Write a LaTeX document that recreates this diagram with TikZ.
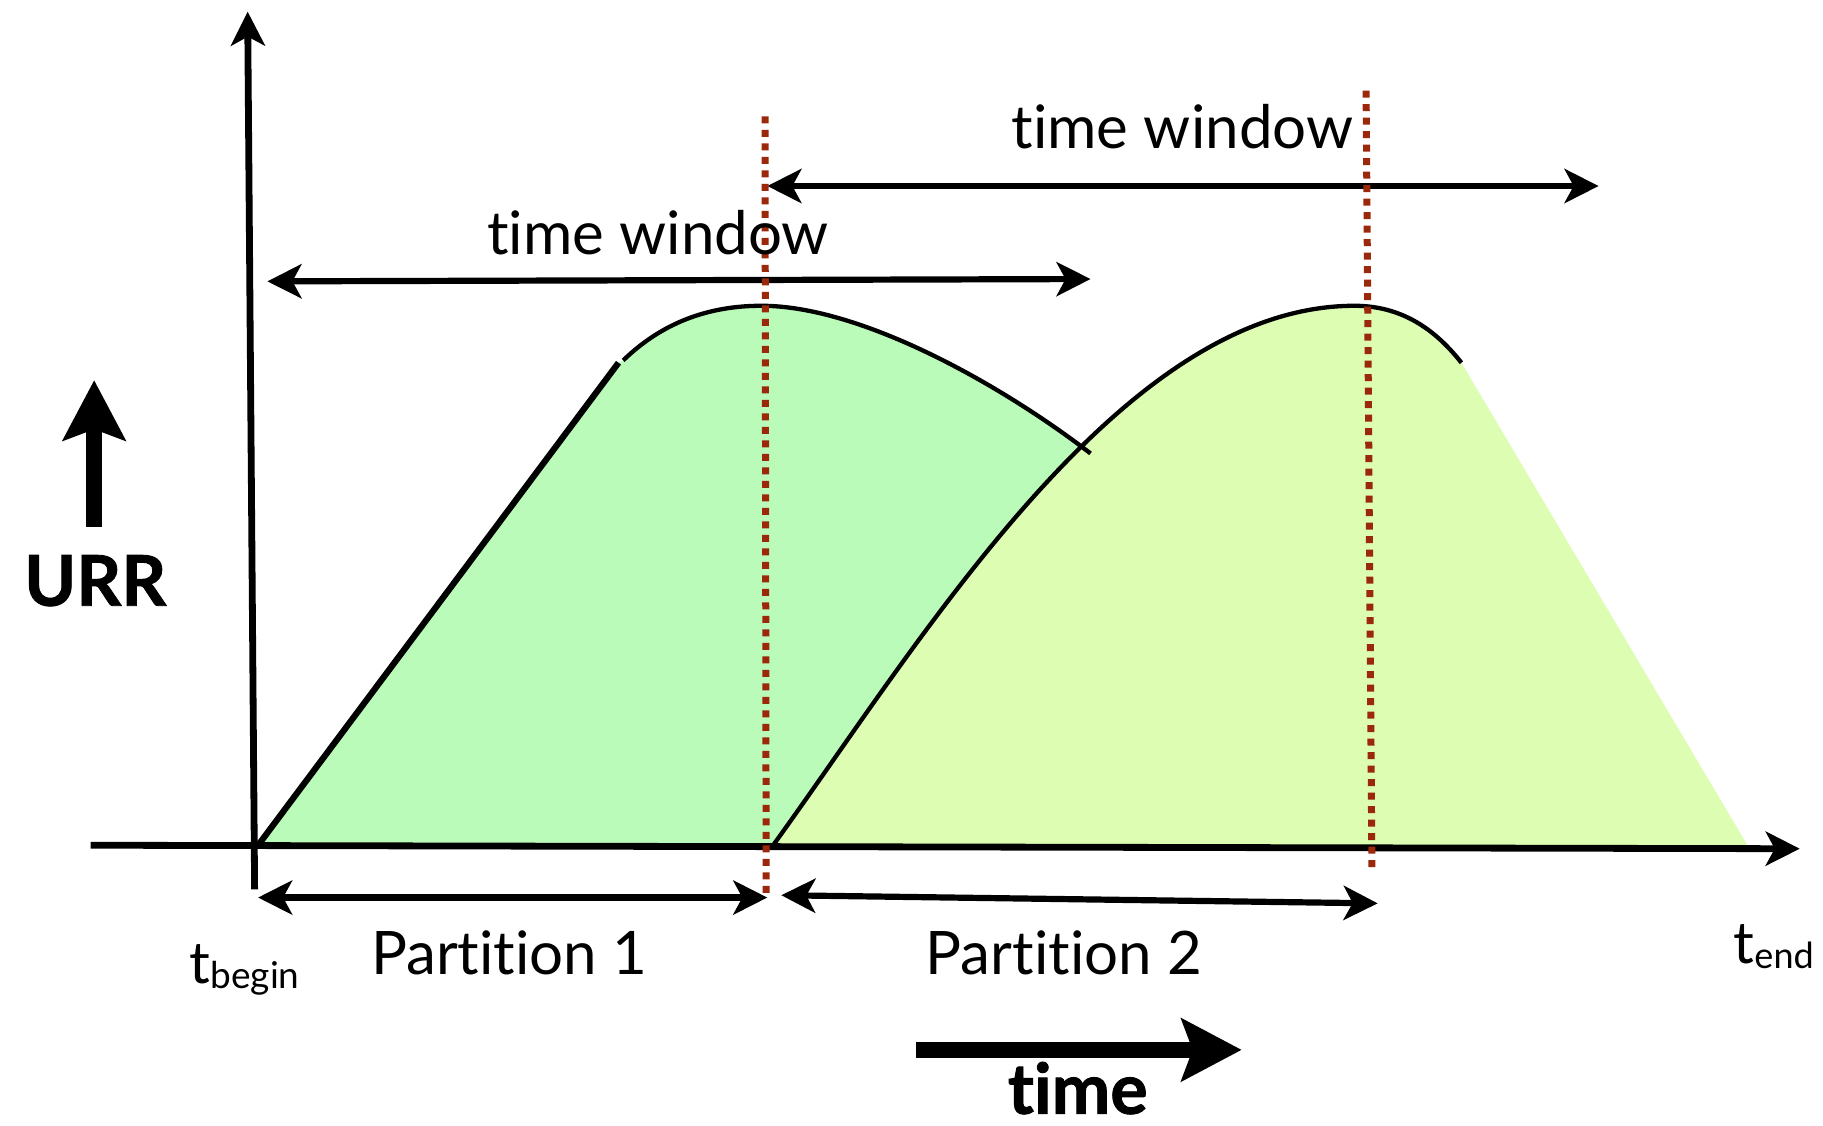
\documentclass[tikz,border=0pt]{standalone}
\usepackage{fontspec}
\setmainfont{Lato}[Ligatures={NoCommon,NoRequired,NoContextual}]
\usetikzlibrary{arrows.meta}
\newcommand\tkI{t\kern0pt i}
\definecolor{gfill}{RGB}{187,251,185}
\definecolor{yfill}{RGB}{220,253,178}
\definecolor{dotred}{RGB}{155,40,10}
\tikzset{
  lbl/.style={inner sep=0pt, anchor=base, font=\fontsize{60}{72}\selectfont},
  boldlbl/.style={inner sep=0pt, anchor=base, font=\fontsize{70}{80}\selectfont\bfseries\addfontfeature{FakeBold=1.2}},
  tlbl/.style={inner sep=0pt, anchor=base west, font=\fontsize{58}{70}\selectfont},
  axisline/.style={line width=6.8pt, -{Stealth[length=34pt, width=34pt, inset=9pt]}},
  dblarrow/.style={line width=6.2pt, {Stealth[length=34pt, width=34pt, inset=9pt]}-{Stealth[length=34pt, width=34pt, inset=9pt]}},
  thickarrow/.style={line width=16pt, -{Stealth[length=60pt, width=62pt, inset=11pt]}},
  redline/.style={draw=dotred, line width=7pt, dash pattern=on 7pt off 6.5pt},
  curveline/.style={line width=4.3pt},
}
\begin{document}
\begin{tikzpicture}[x=1.1626pt, y=-1.1626pt]
\useasboundingbox (0,0) rectangle (1568,968);

% named coordinates
\coordinate (yb) at (219,765);
\coordinate (yt) at (213,10);
\coordinate (xl) at (78,727);
\coordinate (xr) at (1548,730);
\coordinate (g0) at (222,727);
\coordinate (g1) at (532,312);
\coordinate (g2) at (536,310);
\coordinate (gp) at (655,263);
\coordinate (gx) at (938,390);
\coordinate (y0) at (665,727);
\coordinate (yp) at (1165,263);
\coordinate (y3) at (1257,312);
\coordinate (y4) at (1503,727);

% green fill
\fill[gfill] (g0) -- (g1) -- (g2) .. controls (570,277) and (610,263) .. (gp)
  .. controls (740,263) and (860,330) .. (gx) -- (1000,727) -- cycle;
% yellow fill
\fill[yfill] (y0) .. controls (795,547) and (965,263) .. (yp)
  .. controls (1210,263) and (1238,288) .. (y3) -- (y4) -- cycle;

% green outline
\draw[line width=6.2pt] (g0) -- (g1);
\draw[curveline] (g2) .. controls (570,277) and (610,263) .. (gp)
  .. controls (740,263) and (860,330) .. (gx);
% yellow outline
\draw[curveline] (y0) .. controls (795,547) and (965,263) .. (yp)
  .. controls (1210,263) and (1238,288) .. (y3);

% axes
\draw[axisline] (xl) -- (xr);
\draw[axisline] (yb) -- (yt);

% time window arrows
\coordinate (w1a) at (230,242);
\coordinate (w1b) at (938,240);
\coordinate (w2a) at (660,160);
\coordinate (w2b) at (1375,160);
\draw[dblarrow] (w1a) -- (w1b);
\draw[dblarrow] (w2a) -- (w2b);

% partition arrows
\coordinate (p1a) at (222,772);
\coordinate (p1b) at (660,772);
\coordinate (p2a) at (672,770);
\coordinate (p2b) at (1185,777);
\draw[dblarrow] (p1a) -- (p1b);
\draw[dblarrow] (p2a) -- (p2b);

% red dotted lines
\coordinate (r1t) at (658,100);
\coordinate (r1b) at (659,770);
\coordinate (r2t) at (1175,78);
\coordinate (r2b) at (1180,746);
\draw[redline] (r1t) -- (r1b);
\draw[redline] (r2t) -- (r2b);

% thick arrows
\coordinate (ua) at (81,453);
\coordinate (ub) at (81,327);
\draw[thickarrow] (ua) -- (ub);
\coordinate (ta) at (788,903);
\coordinate (tb) at (1068,903);
\draw[thickarrow] (ta) -- (tb);

% labels
\node[lbl] (tw1) at (566,219) {\tkI me window};
\node[lbl] (tw2) at (1017,128) {\tkI me window};
\node[lbl] (pt1) at (438,838) {Par\tkI\tkI on 1};
\node[lbl] (pt2) at (915,838) {Par\tkI\tkI on 2};
\node[boldlbl] (urr) at (82,521) {URR};
\node[boldlbl] (time) at (927,958) {\tkI me};
\node[tlbl] (tbeg) at (163,846) {t\raisebox{-5pt}{\fontsize{37}{40}\selectfont begin}};
\node[tlbl] (tend) at (1491,829) {t\raisebox{-5pt}{\fontsize{36}{40}\selectfont end}};
\end{tikzpicture}
\end{document}
